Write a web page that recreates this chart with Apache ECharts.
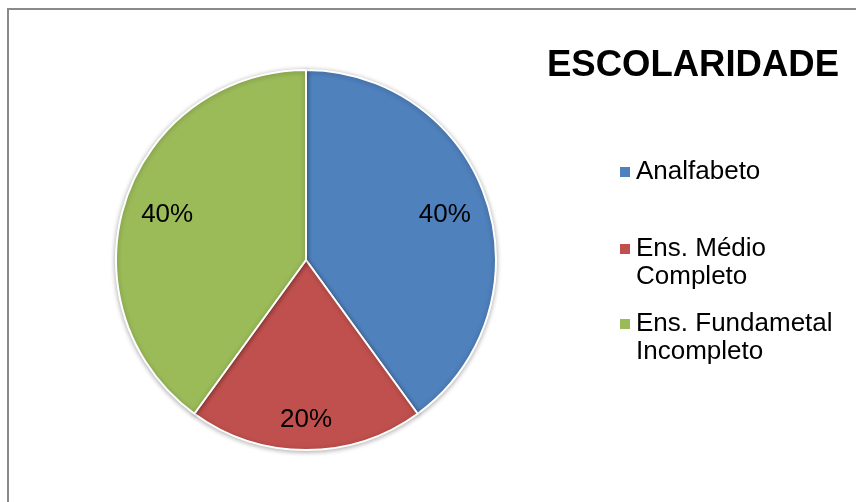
<!DOCTYPE html>
<html>
<head>
<meta charset="utf-8">
<script src="https://cdn.jsdelivr.net/npm/echarts@6/dist/echarts.min.js"></script>
<style>
  html, body { margin: 0; padding: 0; background: #fff; }
  #chart { width: 856px; height: 502px; }
</style>
</head>
<body>
<div id="chart"></div>
<script>
// dados
const categories = ['Analfabeto', 'Ens. Médio Completo', 'Ens. Fundametal Incompleto'];
const legendLines = [['Analfabeto'], ['Ens. Médio', 'Completo'], ['Ens. Fundametal', 'Incompleto']];
const values = [40, 20, 40];
const colors = ['#4F81BD', '#C0504D', '#9BBB59'];

const fontFamily = '"Liberation Sans", Arial, sans-serif';
const legendTops = [158, 207, 282];

const chart = echarts.init(document.getElementById('chart'));

const pieData = categories.map((name, i) => ({
  name,
  value: values[i],
  itemStyle: { color: colors[i] },
}));

// uma legenda por item, como no Excel (espaçamento irregular)
// linha vazia no início => o quadrado fica alinhado com a 1a linha
const legends = categories.map((name, i) => ({
  orient: 'vertical',
  left: 618,
  top: legendTops[i],
  padding: 0,
  itemWidth: 12,
  itemHeight: 12,
  icon: 'rect',
  selectedMode: false,
  data: [name],
  formatter: () => (legendLines[i].length > 1 ? '\n' : '') + legendLines[i].join('\n'),
  textStyle: {
    fontFamily,
    fontSize: 26,
    color: '#000',
    lineHeight: 28,
  },
}));

chart.setOption({
  animation: false,
  backgroundColor: '#fff',
  title: {
    text: 'ESCOLARIDADE',
    left: 547,
    top: 47,
    padding: 0,
    textStyle: { fontFamily, fontSize: 36.5, fontWeight: 'bold', color: '#000' },
  },
  legend: legends,
  graphic: [
    {
      type: 'rect',
      shape: { x: 8, y: 9, width: 900, height: 600 },
      style: { fill: 'none', stroke: '#8a8a8a', lineWidth: 2 },
      silent: true,
    },
  ],
  series: [
    {
      type: 'pie',
      center: [306, 260],
      radius: [0, 190],
      startAngle: 90,
      clockwise: true,
      label: { show: false },
      labelLine: { show: false },
      itemStyle: {
        borderColor: '#fff',
        borderWidth: 2,
        shadowBlur: 5,
        shadowColor: 'rgba(0,0,0,0.3)',
        shadowOffsetY: 1,
      },
      emphasis: { disabled: true },
      data: pieData,
    },
    {
      // anel invisível só para os rótulos, mais perto da borda
      type: 'pie',
      center: [306, 260],
      radius: [0, 286],
      startAngle: 90,
      clockwise: true,
      silent: true,
      legendHoverLink: false,
      itemStyle: { color: 'rgba(0,0,0,0)' },
      label: {
        show: true,
        position: 'inner',
        fontFamily,
        fontSize: 26,
        lineHeight: 28,
        color: '#000',
        // fatia pequena: rótulo um pouco mais para baixo
        formatter: (p) => (p.dataIndex === 1 ? '\n' : '') + Math.round(p.percent) + '%',
      },
      labelLine: { show: false },
      emphasis: { disabled: true },
      data: categories.map((name, i) => ({ name, value: values[i] })),
    },
  ],
});
</script>
</body>
</html>
